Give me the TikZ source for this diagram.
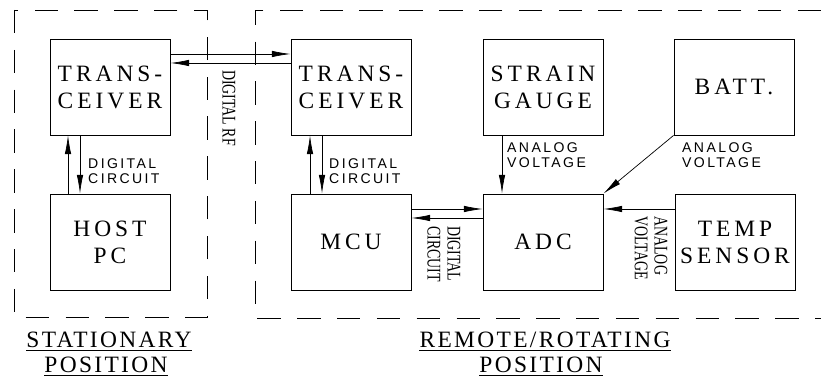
\documentclass[tikz,border=0pt]{standalone}
\usepackage{fontspec}
\usepackage{graphicx}
\setmainfont{Liberation Serif}
\newfontfamily\boxfont[LetterSpace=17]{Liberation Serif}
\newfontfamily\lblfont[LetterSpace=17]{Liberation Sans}
\newfontfamily\capfont[LetterSpace=10]{Liberation Serif}
\usetikzlibrary{arrows.meta}
\newcommand{\cnd}[1]{\scalebox{0.72}[1]{#1}}
\begin{document}
\begin{tikzpicture}[x=0.03cm,y=-0.03cm,
 blk/.style={draw,line width=0.7pt,minimum width=3.6cm,minimum height=2.88cm,align=center,inner sep=0pt,font=\boxfont\fontsize{20}{23}\selectfont},
 arr/.style={line width=0.6pt,-{Latex[length=16pt,width=5.5pt]}},
 lbl/.style={align=left,anchor=west,inner sep=0pt,font=\lblfont\fontsize{12}{12.5}\selectfont},
 rlbl/.style={rotate=-90,align=left,inner sep=0pt,font=\fontsize{16.5}{17}\selectfont},
 zone/.style={dash pattern=on 20pt off 14pt,line width=0.7pt},
 capt/.style={inner sep=0pt,font=\capfont\fontsize{20}{22}\selectfont},
 uline/.style={line width=0.7pt}
]
\useasboundingbox (0,0) rectangle (821,377);
% zones
\draw[zone] (14,10) rectangle (207,317);
\draw[zone] (821,10) -- (255,10) -- (255,318) -- (821,318);
% blocks
\node[blk] (ltr) at (110,87) {TRANS-\\CEIVER};
\node[blk] (host) at (110,242) {HOST\\PC};
\node[blk] (rtr) at (351,87) {TRANS-\\CEIVER};
\node[blk] (mcu) at (351,242) {MCU};
\node[blk] (sg) at (543,87) {STRAIN\\GAUGE};
\node[blk] (batt) at (734,87) {BATT.};
\node[blk] (adc) at (543,242) {ADC};
\node[blk] (temp) at (735,242) {TEMP\\SENSOR};
% connectors
\draw[arr] (ltr.east |- 0,54) -- (rtr.west |- 0,54);
\draw[arr] (rtr.west |- 0,63) -- (ltr.east |- 0,63);
\draw[arr] (host.north -| 68,0) -- (ltr.south -| 68,0);
\draw[arr] (ltr.south -| 80,0) -- (host.north -| 80,0);
\draw[arr] (mcu.north -| 310,0) -- (rtr.south -| 310,0);
\draw[arr] (rtr.south -| 322,0) -- (mcu.north -| 322,0);
\draw[arr] (sg.south -| 502,0) -- (adc.north -| 502,0);
\draw[arr] (batt.south west) -- (adc.north east);
\draw[arr] (temp.west |- 0,209) -- (adc.east |- 0,209);
\draw[arr] (mcu.east |- 0,209) -- (adc.west |- 0,209);
\draw[arr] (adc.west |- 0,218) -- (mcu.east |- 0,218);
% labels
\node[lbl] (l1) at (88,171) {DIGITAL\\CIRCUIT};
\node[lbl] (l2) at (329,171) {DIGITAL\\CIRCUIT};
\node[lbl] (l3) at (507,155) {ANALOG\\VOLTAGE};
\node[lbl] (l4) at (682,155) {ANALOG\\VOLTAGE};
\node[rlbl] (r1) at (229,108) {\cnd{DIGITAL RF}};
\node[rlbl] (r2) at (444,254) {\cnd{DIGITAL}\\\cnd{CIRCUIT}};
\node[rlbl] (r3) at (651,248) {\cnd{ANALOG}\\\cnd{VOLTAGE}};
% captions
\node[capt,anchor=base] (c1) at (109,347) {STATIONARY};
\draw[uline] ([yshift=-3pt]c1.base west) -- ([yshift=-3pt]c1.base east);
\node[capt,anchor=base] (c2) at (106,372) {POSITION};
\draw[uline] ([yshift=-2.5pt]c2.base west) -- ([yshift=-2.5pt]c2.base east);
\node[capt,anchor=base] (c3) at (545,347) {REMOTE/ROTATING};
\draw[uline] ([yshift=-3pt]c3.base west) -- ([yshift=-3pt]c3.base east);
\node[capt,anchor=base] (c4) at (541,372) {POSITION};
\draw[uline] ([yshift=-2.5pt]c4.base west) -- ([yshift=-2.5pt]c4.base east);
\end{tikzpicture}
\end{document}
